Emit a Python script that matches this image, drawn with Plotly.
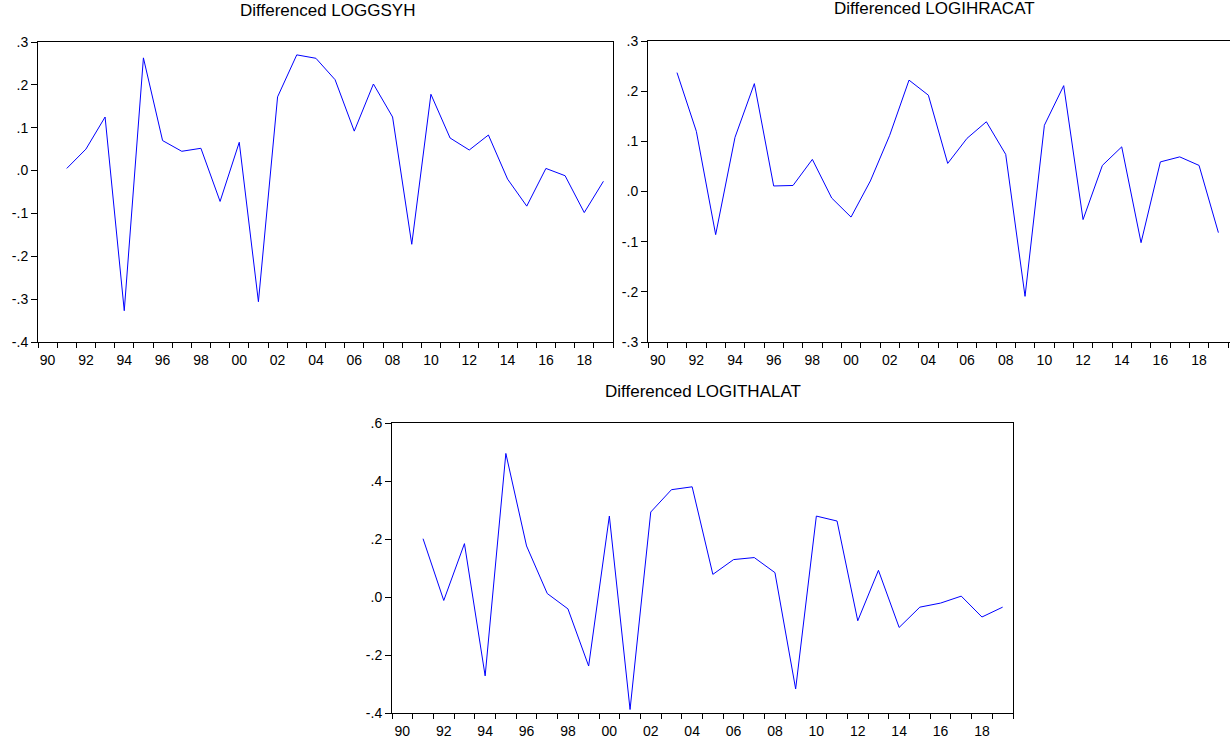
import plotly.graph_objects as go

years = list(range(1991, 2020))

loggsyh = [0.005, 0.050, 0.125, -0.327, 0.263, 0.070, 0.045, 0.052, -0.072, 0.066,
           -0.306, 0.172, 0.270, 0.262, 0.212, 0.092, 0.202, 0.125, -0.172, 0.178,
           0.076, 0.048, 0.083, -0.020, -0.083, 0.005, -0.012, -0.098, -0.025]

logihracat = [0.237, 0.120, -0.086, 0.108, 0.215, 0.011, 0.012, 0.064, -0.013, -0.051,
              0.021, 0.112, 0.222, 0.192, 0.056, 0.106, 0.139, 0.074, -0.209, 0.132,
              0.211, -0.056, 0.052, 0.089, -0.102, 0.059, 0.069, 0.052, -0.082]

logithalat = [0.201, -0.012, 0.184, -0.272, 0.495, 0.176, 0.012, -0.041, -0.238, 0.279,
              -0.388, 0.293, 0.370, 0.380, 0.078, 0.129, 0.136, 0.084, -0.317, 0.279,
              0.262, -0.082, 0.092, -0.105, -0.035, -0.021, 0.003, -0.069, -0.035]

titles = ["Differenced LOGGSYH", "Differenced LOGIHRACAT", "Differenced LOGITHALAT"]

x_tickvals = list(range(1990, 2019, 2))
x_ticktext = ["90", "92", "94", "96", "98", "00", "02", "04", "06", "08",
              "10", "12", "14", "16", "18"]

y1_vals = [0.3, 0.2, 0.1, 0.0, -0.1, -0.2, -0.3, -0.4]
y1_text = [".3", ".2", ".1", ".0", "-.1", "-.2", "-.3", "-.4"]
y2_vals = [0.3, 0.2, 0.1, 0.0, -0.1, -0.2, -0.3]
y2_text = [".3", ".2", ".1", ".0", "-.1", "-.2", "-.3"]
y3_vals = [0.6, 0.4, 0.2, 0.0, -0.2, -0.4]
y3_text = [".6", ".4", ".2", ".0", "-.2", "-.4"]

W, H = 1230, 740
FONT = "Arial, Liberation Sans, sans-serif"


def xd(a, b):
    return [a / W, b / W]


def yd(top, bottom):
    return [1 - bottom / H, 1 - top / H]


fig = go.Figure()
series = [loggsyh, logihracat, logithalat]
for i, s in enumerate(series):
    sfx = "" if i == 0 else str(i + 1)
    fig.add_trace(go.Scatter(x=years, y=s, mode="lines",
                             line=dict(color="#0000FF", width=1),
                             xaxis="x" + sfx, yaxis="y" + sfx,
                             showlegend=False, hoverinfo="x+y"))


def xaxis(domain, anchor, rng):
    return dict(domain=domain, anchor=anchor, range=rng,
                tickvals=x_tickvals, ticktext=x_ticktext,
                ticks="outside", ticklen=5, tickcolor="rgba(0,0,0,0)",
                minor=dict(tick0=1989.5, dtick=1, ticks="outside", ticklen=5,
                           tickcolor="black", tickwidth=1, showgrid=False),
                showline=True, linecolor="black", linewidth=1, mirror=True,
                showgrid=False, zeroline=False, automargin=False,
                tickfont=dict(family=FONT, size=14, color="black"))


def yaxis(domain, anchor, rng, vals, text, mirror=True):
    return dict(domain=domain, anchor=anchor, range=rng,
                tickvals=vals, ticktext=text,
                ticks="outside", ticklen=6, tickcolor="black", tickwidth=1,
                showline=True, linecolor="black", linewidth=1, mirror=mirror,
                showgrid=False, zeroline=False, automargin=False,
                tickfont=dict(family=FONT, size=14, color="black"))


fig.update_layout(
    width=W, height=H,
    margin=dict(l=0, r=0, t=0, b=0, pad=0, autoexpand=False),
    paper_bgcolor="white", plot_bgcolor="white",
    xaxis=xaxis(xd(38, 613), "y", [1989.5, 2019.5]),
    yaxis=yaxis(yd(42, 342), "x", [-0.4, 0.3], y1_vals, y1_text),
    xaxis2=xaxis(xd(648, 1230), "y2", [1989.5, 2019.6]),
    yaxis2=yaxis(yd(41, 342), "x2", [-0.3, 0.3], y2_vals, y2_text, mirror=False),
    xaxis3=xaxis(xd(392, 1013), "y3", [1989.5, 2019.5]),
    yaxis3=yaxis(yd(423, 713), "x3", [-0.4, 0.6], y3_vals, y3_text),
)

title_pos = [(327, 11), (934, 8), (703, 391)]
for t, (cx, cy) in zip(titles, title_pos):
    fig.add_annotation(text=t, x=cx / W, y=1 - cy / H, xref="paper", yref="paper",
                       showarrow=False, xanchor="center", yanchor="middle",
                       font=dict(family=FONT, size=17, color="black"))

fig.write_html("out.html",
               config={"displayModeBar": False},
               post_script="document.body.style.margin='0';document.body.style.overflow='hidden';")
